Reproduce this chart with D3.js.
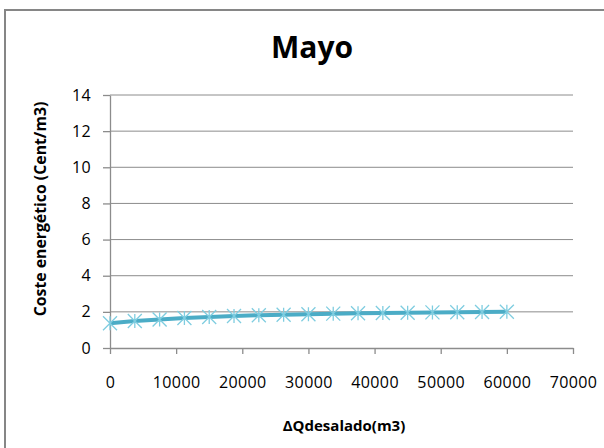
<!DOCTYPE html>
<html><head><meta charset="utf-8">
<script src="https://cdn.jsdelivr.net/npm/d3@7"></script>
<style>body{margin:0;background:#fff;}svg{display:block;font-family:"Open Sans","Noto Sans",sans-serif;}</style>
</head><body>
<script>
const title = "Mayo";
const xLabel = "ΔQdesalado(m3)";
const yLabel = "Coste energético (Cent/m3)";
const xValues = [0,3750,7500,11250,15000,18750,22500,26250,30000,33750,37500,41250,45000,48750,52500,56250,60000];
const yValues = [1.37,1.49,1.58,1.66,1.72,1.77,1.81,1.84,1.87,1.90,1.92,1.94,1.95,1.97,1.98,1.99,2.01];
const xTicks = [0,10000,20000,30000,40000,50000,60000,70000];
const yTicks = [0,2,4,6,8,10,12,14];

const W=604,H=448;
const svg=d3.select("body").append("svg").attr("width",W).attr("height",H);
svg.append("rect").attr("x",5).attr("y",10).attr("width",700).attr("height",500)
  .attr("fill","#fff").attr("stroke","#868686").attr("stroke-width",2);

const L=110,R=573,T=95,B=348;
const x=d3.scaleLinear().domain([0,70000]).range([L,R]);
const y=d3.scaleLinear().domain([0,14]).range([B,T]);
const grey="#8c8c8c";
const ff='"Open Sans","Noto Sans",sans-serif';

// gridlines
svg.append("g").selectAll("line").data(yTicks.filter(d=>d>0)).join("line")
  .attr("x1",L).attr("x2",R).attr("y1",d=>y(d)).attr("y2",d=>y(d))
  .attr("stroke",grey).attr("stroke-width",1);

// y axis
const ya=svg.append("g").attr("transform",`translate(${L},0)`)
  .call(d3.axisLeft(y).tickValues(yTicks).tickSize(7).tickPadding(12).tickSizeOuter(0));
// x axis
const xa=svg.append("g").attr("transform",`translate(0,${B})`)
  .call(d3.axisBottom(x).tickValues(xTicks).tickSize(6).tickPadding(23).tickSizeOuter(0).tickFormat(d=>String(d)));
[ya,xa].forEach(a=>{
  a.attr("font-size",16).attr("font-family",ff);
  a.selectAll("path,line").attr("stroke",grey).attr("stroke-width",1.3);
  a.selectAll("text").attr("fill","#000").style("font-size","16px").style("letter-spacing","0.4px").style("font-family",ff);
});

// line
svg.append("path").datum(xValues.map((v,i)=>[v,yValues[i]]))
  .attr("fill","none").attr("stroke","#4bacc6").attr("stroke-width",4)
  .attr("d",d3.line().x(d=>x(d[0])).y(d=>y(d[1])));

// star markers
const m=svg.append("g").selectAll("g").data(xValues.map((v,i)=>[v,yValues[i]])).join("g")
  .attr("transform",d=>`translate(${x(d[0])},${y(d[1])})`);
const s=7;
m.append("path").attr("d",`M${-s},${-s}L${s},${s}M${-s},${s}L${s},${-s}M0,${-s}L0,${s}`)
  .attr("stroke","#7fcde0").attr("stroke-width",1.3).attr("fill","none");

svg.append("text").attr("x",312).attr("y",58).attr("text-anchor","middle")
  .style("font-size","30px").style("font-weight","bold").text(title);
svg.append("text").attr("x",344).attr("y",431).attr("text-anchor","middle")
  .style("font-size","15px").style("font-weight","bold").text(xLabel);
svg.append("text").attr("transform",`translate(46,209) rotate(-90)`).attr("text-anchor","middle")
  .style("font-size","15.8px").style("font-weight","bold").text(yLabel);
</script>
</body></html>
